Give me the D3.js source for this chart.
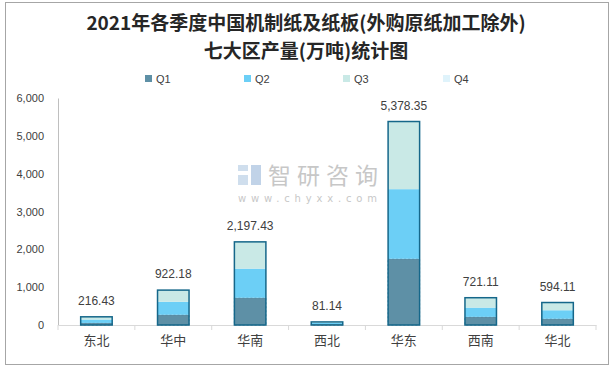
<!DOCTYPE html>
<html><head><meta charset="utf-8">
<script src="https://cdn.jsdelivr.net/npm/d3@7"></script>
<style>body{margin:0;background:#fff;}svg{display:block;}</style>
</head><body>
<svg id="c" width="615" height="368"></svg>
<script>
const categories = ["东北","华中","华南","西北","华东","西南","华北"];
const seriesNames = ["Q1","Q2","Q3","Q4"];
const q1 = [55, 270, 720, 25, 1750, 215, 165];
const q2 = [90, 345, 770, 35, 1840, 245, 225];
const q3 = [71.43, 307.18, 707.43, 21.14, 1788.35, 261.11, 204.11];
const q4 = [0, 0, 0, 0, 0, 0, 0];
const totals = [216.43, 922.18, 2197.43, 81.14, 5378.35, 721.11, 594.11];
const yTicks = [0,1000,2000,3000,4000,5000,6000];
const colors = ["#5e90a6","#6ccff6","#c9e9e6","#dff3fb"];

const svg = d3.select("#c");
const font = "'Noto Sans CJK SC', sans-serif";
svg.append("rect").attr("x",5.5).attr("y",2.5).attr("width",603).attr("height",362)
  .attr("fill","#fff").attr("stroke","#a6a6a6").attr("stroke-width",1);

// title
const title = svg.append("text").attr("text-anchor","middle").attr("font-family",font)
  .attr("font-weight","bold").attr("font-size",19).attr("fill","#262626");
title.append("tspan").attr("x",306).attr("y",30).text("2021年各季度中国机制纸及纸板(外购原纸加工除外)");
title.append("tspan").attr("x",306).attr("y",58).text("七大区产量(万吨)统计图");

// legend
const legX = [145,244,343,443];
seriesNames.forEach((s,i)=>{
  svg.append("rect").attr("x",legX[i]).attr("y",75).attr("width",7).attr("height",7).attr("fill",colors[i]);
  svg.append("text").attr("x",legX[i]+11).attr("y",82.5).attr("font-family","'Liberation Sans', Arial, sans-serif")
    .attr("font-size",11).attr("fill","#404040").text(s);
});

const margin = {l:58, r:596, t:98, b:325};
const x = d3.scaleBand().domain(categories).range([margin.l, margin.r]).paddingInner(0.59).paddingOuter(0.295);
const y = d3.scaleLinear().domain([0,6000]).range([margin.b, margin.t]);

// watermark
const wm = svg.append("g").attr("opacity",0.55);
wm.append("rect").attr("x",238).attr("y",165).attr("width",10).attr("height",6).attr("fill","#a9c4e0");
wm.append("rect").attr("x",238).attr("y",175).attr("width",10).attr("height",10).attr("fill","#a9c4e0");
wm.append("rect").attr("x",251).attr("y",165).attr("width",10).attr("height",20).attr("fill","#8fb0d6");
wm.append("text").attr("x",268).attr("y",184).attr("font-family",font).attr("font-size",23)
  .attr("fill","#9a9a9a").attr("textLength",110).text("智研咨询");
wm.append("text").attr("x",238).attr("y",202).attr("font-family","'DejaVu Sans', sans-serif").attr("font-size",10)
  .attr("fill","#9a9a9a").attr("textLength",139).text("www.chyxx.com");

// y axis
const yAxis = d3.axisLeft(y).tickValues(yTicks).tickSize(0).tickPadding(14).tickFormat(d3.format(","));
const ga = svg.append("g").attr("transform",`translate(${margin.l},0)`).call(yAxis);
ga.select(".domain").attr("stroke","#bfbfbf");
ga.selectAll("text").attr("font-family","'Liberation Sans', Arial, sans-serif").attr("font-size",11).attr("fill","#404040");

// x axis
const xAxis = d3.axisBottom(x).tickSize(0).tickPadding(11);
const gx = svg.append("g").attr("transform",`translate(0,${margin.b})`).call(xAxis);
gx.select(".domain").attr("stroke","#d9d9d9");
gx.selectAll("text").attr("font-family",font).attr("font-size",13).attr("fill","#404040");
const step = x.step();
const sepX = d3.range(categories.length+1).map(i=>margin.l + i*step);
gx.selectAll(".sep").data(sepX).enter().append("line")
  .attr("x1",d=>d).attr("x2",d=>d).attr("y1",0).attr("y2",5).attr("stroke","#d9d9d9");

// stacked bars
const rows = categories.map((c,i)=>({cat:c, Q1:q1[i], Q2:q2[i], Q3:q3[i], Q4:q4[i]}));
const stack = d3.stack().keys(seriesNames)(rows);
stack.forEach((layer,li)=>{
  svg.append("g").selectAll("rect").data(layer).enter().append("rect")
    .attr("x",d=>x(d.data.cat)).attr("width",x.bandwidth())
    .attr("y",d=>y(d[1])).attr("height",d=>Math.max(0,y(d[0])-y(d[1])))
    .attr("fill",colors[li])
    .attr("stroke", li===0 ? "#4f7f95" : "none").attr("stroke-dasharray", li===0 ? "2,2" : null)
    .attr("stroke-width",0.8);
});
// outline
svg.append("g").selectAll("rect").data(categories).enter().append("rect")
  .attr("x",(d)=>x(d)).attr("width",x.bandwidth())
  .attr("y",(d,i)=>y(totals[i])).attr("height",(d,i)=>y(0)-y(totals[i]))
  .attr("fill","none").attr("stroke","#15678a").attr("stroke-width",1.5);

// labels
svg.append("g").selectAll("text").data(categories).enter().append("text")
  .attr("x",d=>x(d)+x.bandwidth()/2).attr("y",(d,i)=>y(totals[i])-12)
  .attr("text-anchor","middle").attr("font-family","'Liberation Sans', Arial, sans-serif")
  .attr("font-size",12).attr("fill","#404040")
  .text((d,i)=>d3.format(",.2f")(totals[i]));
</script>
</body></html>
